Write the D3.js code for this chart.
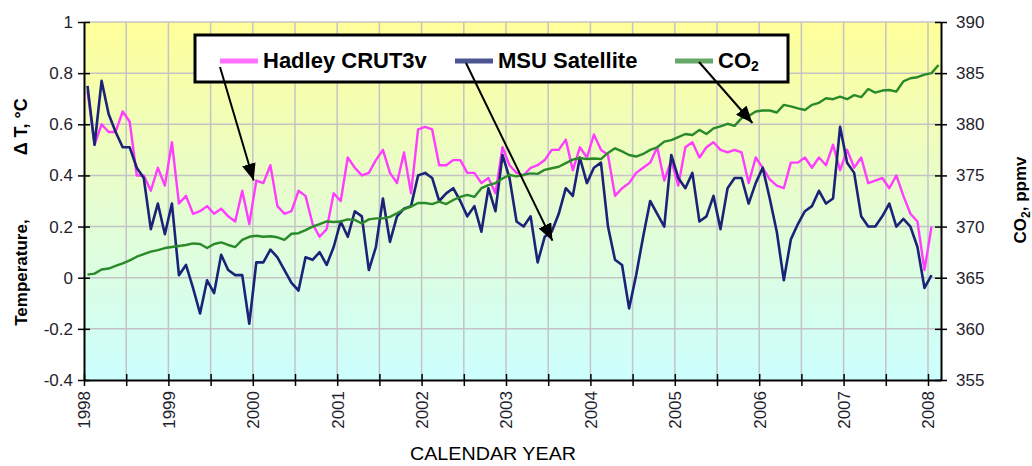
<!DOCTYPE html>
<html>
<head>
<meta charset="utf-8">
<script src="https://cdn.jsdelivr.net/npm/d3@7"></script>
<style>
  body { margin: 0; background: #fff; }
  svg { display: block; font-family: "Liberation Sans", Arial, sans-serif; }
  .tick text { font-size: 17px; fill: #1e1e2e; }
  .legend text { font-size: 22px; font-weight: bold; }
  .label { font-size: 17px; font-weight: bold; }
</style>
</head>
<body>
<svg width="1032" height="466"></svg>
<script>
// monthly values Jan 1998 .. Jan 2008 (CO2 runs to Feb 2008)
const hadley = [
  0.73, 0.52, 0.60, 0.57, 0.57, 0.65, 0.61, 0.40, 0.40, 0.34, 0.43, 0.36,
  0.53, 0.29, 0.32, 0.25, 0.26, 0.28, 0.25, 0.27, 0.24, 0.22, 0.34, 0.21,
  0.38, 0.37, 0.44, 0.28, 0.25, 0.26, 0.34, 0.32, 0.21, 0.16, 0.19, 0.33,
  0.30, 0.47, 0.43, 0.40, 0.41, 0.46, 0.50, 0.41, 0.37, 0.49, 0.33, 0.58,
  0.59, 0.58, 0.44, 0.44, 0.46, 0.46, 0.41, 0.41, 0.37, 0.39, 0.33, 0.51,
  0.44, 0.41, 0.40, 0.43, 0.44, 0.46, 0.50, 0.50, 0.54, 0.42, 0.51, 0.47,
  0.56, 0.50, 0.48, 0.32, 0.35, 0.37, 0.41, 0.43, 0.45, 0.51, 0.38, 0.46,
  0.36, 0.51, 0.53, 0.47, 0.51, 0.53, 0.50, 0.49, 0.50, 0.49, 0.37, 0.47,
  0.43, 0.385, 0.36, 0.35, 0.45, 0.45, 0.47, 0.43, 0.47, 0.44, 0.52, 0.42,
  0.50, 0.43, 0.47, 0.37, 0.38, 0.39, 0.35, 0.40, 0.32, 0.25, 0.22, 0.03,
  0.20
];

const msu = [
  0.75, 0.52, 0.77, 0.64, 0.57, 0.51, 0.51, 0.43, 0.39, 0.19, 0.29, 0.17,
  0.29, 0.01, 0.05, -0.04, -0.14, -0.01, -0.06, 0.09, 0.03, 0.01, 0.01, -0.18,
  0.06, 0.06, 0.11, 0.08, 0.03, -0.02, -0.05, 0.08, 0.07, 0.10, 0.05, 0.12,
  0.22, 0.16, 0.26, 0.24, 0.03, 0.12, 0.31, 0.14, 0.24, 0.27, 0.28, 0.40,
  0.41, 0.39, 0.30, 0.33, 0.35, 0.30, 0.24, 0.28, 0.18, 0.35, 0.26, 0.48,
  0.39, 0.22, 0.20, 0.24, 0.06, 0.16, 0.18, 0.25, 0.35, 0.32, 0.47, 0.37,
  0.43, 0.45, 0.20, 0.07, 0.05, -0.12, 0.01, 0.16, 0.30, 0.25, 0.20, 0.48,
  0.39, 0.35, 0.41, 0.22, 0.24, 0.32, 0.19, 0.35, 0.39, 0.39, 0.29, 0.37,
  0.43, 0.31, 0.18, -0.01, 0.15, 0.21, 0.26, 0.28, 0.34, 0.29, 0.31, 0.59,
  0.45, 0.41, 0.24, 0.20, 0.20, 0.24, 0.29, 0.20, 0.23, 0.20, 0.12, -0.04,
  0.01
];

const co2 = [
  365.3, 365.4, 365.8, 365.9, 366.15, 366.4, 366.7, 367.05, 367.3, 367.55, 367.7, 367.9,
  368.0, 368.1, 368.2, 368.35, 368.3, 367.9, 368.3, 368.45, 368.2, 368.0, 368.7, 369.0,
  369.1, 369.0, 369.05, 368.95, 368.7, 369.3, 369.35, 369.65, 370.0, 370.25, 370.5, 370.45,
  370.5, 370.7, 370.65, 370.3, 370.7, 370.8, 370.8, 370.95, 371.3, 371.7, 371.95, 372.3,
  372.3, 372.2, 372.45, 372.2, 372.6, 372.9, 373.1, 372.9, 373.75, 374.05, 374.25, 374.7,
  375.05, 374.9, 375.05, 375.2, 375.15, 375.55, 375.7, 375.85, 376.2, 376.55, 376.7, 376.6,
  376.65, 376.6, 377.2, 377.65, 377.35, 377.0, 376.85, 377.1, 377.5, 377.75, 378.3, 378.45,
  378.75, 379.05, 378.95, 379.45, 379.05, 379.6, 379.8, 380.05, 379.85, 380.6, 380.8, 381.25,
  381.35, 381.35, 381.15, 381.9, 381.75, 381.55, 381.4, 381.9, 382.1, 382.55, 382.45, 382.7,
  382.45, 382.85, 382.65, 383.45, 383.1, 383.3, 383.35, 383.2, 384.2, 384.5, 384.6, 384.85,
  385.0, 385.8
];

const years = [1998, 1999, 2000, 2001, 2002, 2003, 2004, 2005, 2006, 2007, 2008];
const tempTicks = [-0.4, -0.2, 0, 0.2, 0.4, 0.6, 0.8, 1];
const co2Ticks = [355, 360, 365, 370, 375, 380, 385, 390];

const seriesNames = ['Hadley CRUT3v', 'MSU Satellite', 'CO2'];

// arrow tips in data coords: [year, temperature]
const arrowTips = [[2000.01, 0.38], [2003.55, 0.145], [2005.92, 0.605]];

const svg = d3.select('svg');
const margin = { top: 22, right: 91, bottom: 86, left: 84 };
const width = 1032 - margin.left - margin.right;
const height = 466 - margin.top - margin.bottom;

const monthDate = (i) => 1998 + (i + 0.5) / 12;

const xScale = d3.scaleLinear().domain([1998, 2008.154]).range([0, width]);
const yScale = d3.scaleLinear().domain([-0.4, 1]).range([height, 0]);
const yCO2 = d3.scaleLinear().domain([355, 390]).range([height, 0]);

const halfYears = [];
years.forEach((y) => { halfYears.push(y); if (y < 2008) halfYears.push(y + 0.5); });

const defs = svg.append('defs');
const grad = defs.append('linearGradient')
  .attr('id', 'bg').attr('x1', 0).attr('y1', 0).attr('x2', 0).attr('y2', 1);
grad.append('stop').attr('offset', '0%').attr('stop-color', '#ffff99');
grad.append('stop').attr('offset', '50%').attr('stop-color', '#e6fdd0');
grad.append('stop').attr('offset', '100%').attr('stop-color', '#ccffff');

defs.append('marker')
  .attr('id', 'head')
  .attr('markerUnits', 'userSpaceOnUse')
  .attr('markerWidth', 18).attr('markerHeight', 14)
  .attr('refX', 17).attr('refY', 7)
  .attr('orient', 'auto')
  .append('path')
  .attr('d', 'M0,0 L17,7 L0,14 Z')
  .attr('fill', '#000');

const chart = svg.append('g')
  .attr('transform', `translate(${margin.left}, ${margin.top})`);

chart.append('rect')
  .attr('width', width)
  .attr('height', height)
  .attr('fill', 'url(#bg)');

// grid
chart.append('g')
  .selectAll('line')
  .data(halfYears.slice(1))
  .enter()
  .append('line')
  .attr('x1', (d) => xScale(d)).attr('x2', (d) => xScale(d))
  .attr('y1', 0).attr('y2', height)
  .attr('stroke', '#c4c4c4').attr('stroke-width', 1.5);

chart.append('g')
  .selectAll('line')
  .data(tempTicks.slice(1))
  .enter()
  .append('line')
  .attr('x1', 0).attr('x2', width)
  .attr('y1', (d) => yScale(d)).attr('y2', (d) => yScale(d))
  .attr('stroke', '#c4c4c4').attr('stroke-width', 1.5);

// series
const line = d3.line()
  .x((d, i) => xScale(monthDate(i)))
  .y((d) => yScale(d));

const lineCO2 = d3.line()
  .x((d, i) => xScale(monthDate(i)))
  .y((d) => yCO2(d));

chart.append('path')
  .datum(hadley)
  .attr('d', line)
  .attr('fill', 'none')
  .attr('stroke', '#ff3cff')
  .attr('stroke-width', 2.4)
  .attr('stroke-linejoin', 'round');

chart.append('path')
  .datum(msu)
  .attr('d', line)
  .attr('fill', 'none')
  .attr('stroke', '#1a2378')
  .attr('stroke-width', 2.6)
  .attr('stroke-linejoin', 'round');

chart.append('path')
  .datum(co2)
  .attr('d', lineCO2)
  .attr('fill', 'none')
  .attr('stroke', '#2a8a2a')
  .attr('stroke-width', 2.4)
  .attr('stroke-linejoin', 'round');

// axes
const fmt = (d) => String(+d.toFixed(1));

chart.append('g')
  .call(d3.axisLeft(yScale).tickValues(tempTicks).tickFormat(fmt).tickSize(6).tickSizeOuter(0).tickPadding(5))
  .call((g) => g.select('.domain').attr('stroke-width', 2))
  .call((g) => g.selectAll('.tick line').attr('x1', 6).attr('stroke-width', 1.5));

chart.append('g')
  .attr('transform', `translate(${width}, 0)`)
  .call(d3.axisRight(yCO2).tickValues(co2Ticks).tickSize(6).tickSizeOuter(0).tickPadding(9))
  .call((g) => g.select('.domain').attr('stroke-width', 2))
  .call((g) => g.selectAll('.tick line').attr('x1', -6).attr('stroke-width', 1.5));

chart.append('g')
  .attr('transform', `translate(0, ${height})`)
  .call(d3.axisBottom(xScale).tickValues(halfYears)
    .tickFormat((d) => (Number.isInteger(d) ? d : ''))
    .tickSize(6).tickSizeOuter(0))
  .call((g) => g.select('.domain').attr('stroke-width', 2))
  .call((g) => g.selectAll('.tick line').attr('y1', -6).attr('stroke-width', 1.5))
  .call((g) => g.selectAll('.tick text')
    .attr('transform', 'rotate(-90)')
    .attr('x', -11)
    .attr('y', 0)
    .attr('dy', '0.35em')
    .attr('text-anchor', 'end'));

// legend
const legend = svg.append('g').attr('class', 'legend');
legend.append('rect')
  .attr('x', 195).attr('y', 35)
  .attr('width', 593).attr('height', 47)
  .attr('fill', '#fff')
  .attr('stroke', '#000')
  .attr('stroke-width', 3);

const legendItems = [
  { name: seriesNames[0], color: '#ff70ff', x: 220 },
  { name: seriesNames[1], color: '#4a5592', x: 455 },
  { name: seriesNames[2], color: '#66a866', x: 675 }
];

legendItems.forEach((it) => {
  legend.append('line')
    .attr('x1', it.x).attr('x2', it.x + 38)
    .attr('y1', 61).attr('y2', 61)
    .attr('stroke', it.color)
    .attr('stroke-width', 5);
  const t = legend.append('text')
    .attr('x', it.x + 43)
    .attr('y', 68);
  if (it.name === 'CO2') {
    t.append('tspan').text('CO');
    t.append('tspan').attr('font-size', 14).attr('dy', 3).text('2');
  } else {
    t.text(it.name);
  }
});

// arrows from legend samples
const arrowStarts = [[220, 67], [466, 63], [699, 62]];
arrowTips.forEach((tip, i) => {
  svg.append('line')
    .attr('x1', arrowStarts[i][0])
    .attr('y1', arrowStarts[i][1])
    .attr('x2', margin.left + xScale(tip[0]))
    .attr('y2', margin.top + yScale(tip[1]))
    .attr('stroke', '#000')
    .attr('stroke-width', 2)
    .attr('marker-end', 'url(#head)');
});

// axis titles
const yLab = svg.append('text')
  .attr('class', 'label')
  .attr('transform', 'translate(27, 212) rotate(-90)')
  .attr('text-anchor', 'middle');
yLab.append('tspan').text('Temperature,');
yLab.append('tspan').attr('dx', 64).attr('font-size', 18).text('\u0394 T, \u00b0C');

const y2Lab = svg.append('text')
  .attr('class', 'label')
  .attr('transform', 'translate(1026, 200) rotate(-90)')
  .attr('text-anchor', 'middle');
y2Lab.append('tspan').text('CO');
y2Lab.append('tspan').attr('font-size', 12).attr('dy', 4).text('2');
y2Lab.append('tspan').attr('dy', -4).text(', ppmv');

svg.append('text')
  .attr('x', 493)
  .attr('y', 460)
  .attr('text-anchor', 'middle')
  .attr('textLength', 166)
  .attr('lengthAdjust', 'spacingAndGlyphs')
  .style('font-family', '"Liberation Sans Narrow", "Liberation Sans", Arial, sans-serif')
  .style('font-size', '18px')
  .text('CALENDAR YEAR');
</script>
</body>
</html>
